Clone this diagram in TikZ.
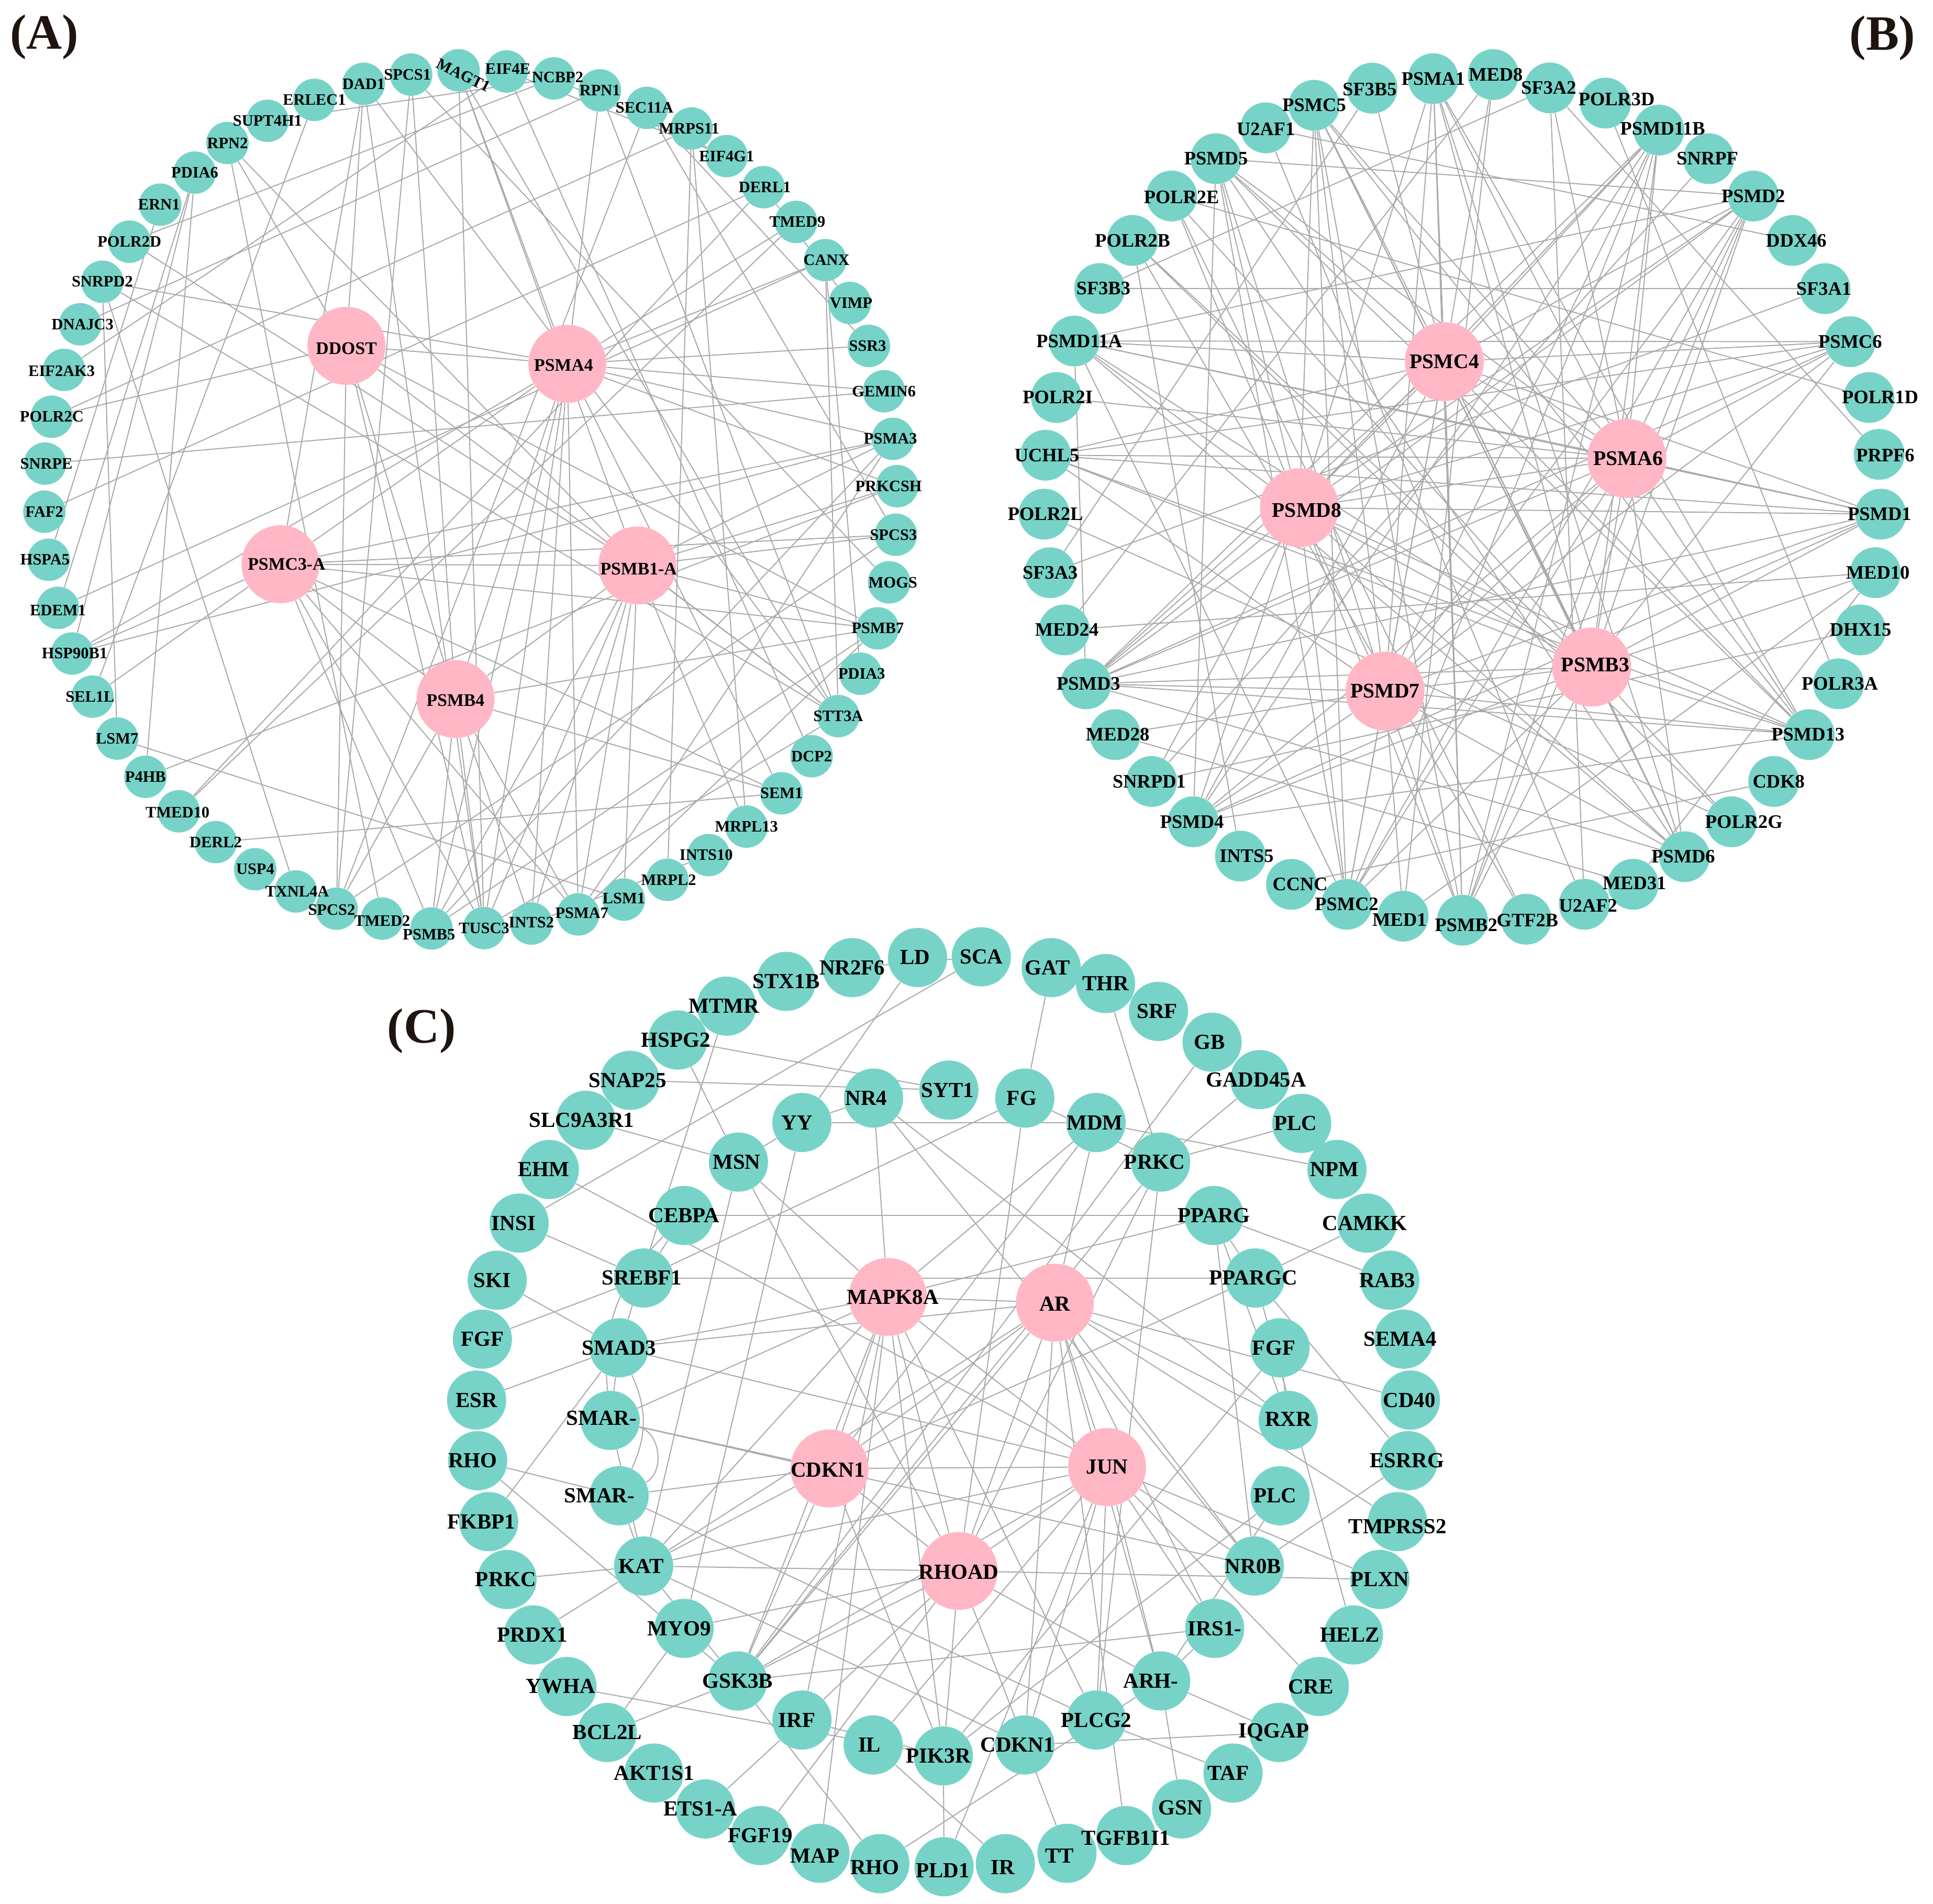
\documentclass[tikz,border=0pt]{standalone}
\usepackage{fontspec}
\setmainfont{Liberation Serif}
\usetikzlibrary{calc}
\pgfdeclarelayer{background}
\pgfsetlayers{background,main}
\definecolor{nodeteal}{HTML}{77D3C8}
\definecolor{hubpink}{HTML}{FFB7C6}
\definecolor{edgegray}{HTML}{A9A9A9}
\definecolor{lettercol}{HTML}{1F1410}
\tikzset{
 edge/.style={draw=edgegray,line width=0.6pt},
 sa/.style={circle,fill=nodeteal,minimum size=0.86cm,inner sep=0pt},
 ha/.style={circle,fill=hubpink,minimum size=1.58cm,inner sep=0pt},
 sb/.style={circle,fill=nodeteal,minimum size=1.03cm,inner sep=0pt},
 hb/.style={circle,fill=hubpink,minimum size=1.6cm,inner sep=0pt},
 sc/.style={circle,fill=nodeteal,minimum size=1.2cm,inner sep=0pt},
 hc/.style={circle,fill=hubpink,minimum size=1.58cm,inner sep=0pt},
 la/.style={inner sep=0pt,font=\fontsize{9.2}{10}\selectfont\bfseries},
 lha/.style={inner sep=0pt,font=\fontsize{10.2}{11}\selectfont\bfseries},
 lb/.style={inner sep=0pt,font=\fontsize{11}{12}\selectfont\bfseries},
 lhb/.style={inner sep=0pt,font=\fontsize{12}{13}\selectfont\bfseries},
 lc/.style={inner sep=0pt,font=\fontsize{12.4}{13}\selectfont\bfseries},
 panel/.style={inner sep=0pt,text=lettercol,font=\fontsize{28.5}{30}\selectfont\bfseries},
}
\begin{document}
\begin{tikzpicture}[x=0.025cm,y=-0.025cm]
\useasboundingbox (0,0) rectangle (1568,1544);
% ---------------- Panel A ----------------
\def\listA{DAD1/295/68/DAD1/0/0, SPCS1/333.5/60.5/SPCS1/-3/0, MAGT1/372/57//0/0, EIF4E/411/58/EIF4E/1/-2, NCBP2/449.3/63.6/NCBP2/3/-1, RPN1/486.6/73.3/RPN1/0/0, SEC11A/524.8/87.5/SEC11A/-2/0, MRPS11/561/104.2/MRPS11/-2/0, EIF4G1/589.4/126.6/EIF4G1/0/0, DERL1/619.4/151.8/DERL1/1/0, TMED9/645.8/180/TMED9/1/0, CANX/669.4/211/CANX/1/0, VIMP/689.4/245.7/VIMP/1/0, SSR3/704.8/280.5/SSR3/-1/0, GEMIN6/717/317.3/GEMIN6/0/0, PSMA3/724.3/355.9/PSMA3/-2/0, PRKCSH/727.8/394.3/PRKCSH/-7/0, SPCS3/726.7/433.7/SPCS3/-2/0, MOGS/721.3/472.3/MOGS/3/0, PSMB7/712/509.6/PSMB7/0/0, PDIA3/698/546.4/PDIA3/1/0, STT3A/680/580.8/STT3A/0/0, DCP2/658.4/613.3/DCP2/0/0, SEM1/634/643.4/SEM1/0/0, MRPL13/605.5/670.4/MRPL13/0/0, INTS10/574.8/693.5/INTS10/-2/0, MRPL2/541.4/713.6/MRPL2/1/0, LSM1/506/729.6/LSM1/0/-1, PSMA7/469/741.6/PSMA7/3/-1, INTS2/431/749/INTS2/0/-1, TUSC3/392.7/752.7/TUSC3/0/0, PSMB5/350/753/PSMB5/-2/5, TMED2/310/745/TMED2/0/2, SPCS2/273/737/SPCS2/-4/1, TXNL4A/240/723/TXNL4A/1/0, USP4/207/705/USP4/0/0, DERL2/175/683/DERL2/0/0, TMED10/145/658/TMED10/-1/1, P4HB/118/630/P4HB/0/0, LSM7/95/599/LSM7/0/0, SEL1L/75/565/SEL1L/-2/0, HSP90B1/58.5/530/HSP90B1/2/0, EDEM1/47/493/EDEM1/0/2, HSPA5/39.5/454/HSPA5/-3/0, FAF2/36/415/FAF2/0/0, SNRPE/36.6/376/SNRPE/1/0, POLR2C/42/338/POLR2C/0/0, EIF2AK3/52/300/EIF2AK3/-2/1, DNAJC3/65/263/DNAJC3/2/0, SNRPD2/83/228.5/SNRPD2/0/0, POLR2D/105/196/POLR2D/0/0, ERN1/130/166/ERN1/-1/0, PDIA6/158/140/PDIA6/0/0, RPN2/184.5/116/RPN2/0/0, SUPT4H1/217/98/SUPT4H1/0/0, ERLEC1/255/81/ERLEC1/0/0}
\def\hubA{DDOST/281/280.5/DDOST/0/2, PSMA4/460.2/295.1/PSMA4/-3/1, PSMC3-A/227.5/457.6/PSMC3-A/5/0, PSMB1-A/517/458.6/PSMB1-A/1/3, PSMB4/369.5/567/PSMB4/0/1}
\foreach \nm/\px/\py/\tx/\dx/\dy in \listA {\node[sa] (a-\nm) at (\px,\py) {};}
\foreach \nm/\px/\py/\tx/\dx/\dy in \hubA {\node[ha] (a-\nm) at (\px,\py) {};}
% ---------------- Panel B ----------------
\def\listB{PSMA1/1162.6/63.8/PSMA1/0/0, MED8/1211.3/60.5/MED8/2/0, SF3A2/1257.2/71.3/SF3A2/-1/0, POLR3D/1302.3/83.6/POLR3D/9/-3, PSMD11B/1345.7/105.5/PSMD11B/3/-1, SNRPF/1386/128.7/SNRPF/-1/0, PSMD2/1422.2/159/PSMD2/0/0, DDX46/1454.1/195/DDX46/3/0, SF3A1/1480.4/234.1/SF3A1/-1/0, PSMC6/1500.8/277.1/PSMC6/0/0, POLR1D/1516.1/322.4/POLR1D/9/0, PRPF6/1524.3/368.5/PRPF6/5/1, PSMD1/1525.6/417/PSMD1/-1/0, MED10/1521.2/464.5/MED10/2/0, DHX15/1509.2/510.9/DHX15/0/0, POLR3A/1491.4/554.6/POLR3A/1/0, PSMD13/1467.6/595.8/PSMD13/-1/0, CDK8/1438.8/633.8/CDK8/4/0, POLR2G/1404.6/666.5/POLR2G/10/0, PSMD6/1366.4/694.8/PSMD6/-1/0, MED31/1324.8/717.2/MED31/1/-1, U2AF2/1285.2/733.4/U2AF2/3/1, GTF2B/1238/745.5/GTF2B/1/1, PSMB2/1186.3/746.3/PSMB2/3/4, MED1/1138.2/743/MED1/-3/3, PSMC2/1092.4/733.4/PSMC2/0/0, CCNC/1047.6/717.2/CCNC/7/0, INTS5/1006.2/694.3/INTS5/5/0, PSMD4/967.9/666.5/PSMD4/-1/0, SNRPD1/934.2/633.8/SNRPD1/-2/0, MED28/904.6/595.8/MED28/2/0, PSMD3/880.9/554.6/PSMD3/2/0, MED24/863.4/510.9/MED24/2/0, SF3A3/851.8/464.5/SF3A3/0/0, POLR2L/847/417/POLR2L/1/0, UCHL5/848.2/369.2/UCHL5/1/0, POLR2I/857/322.4/POLR2I/1/0, PSMD11A/871.4/276.6/PSMD11A/4/0, SF3B3/892/234/SF3B3/3/0, POLR2B/918.7/195/POLR2B/0/0, POLR2E/950.4/159/POLR2E/8/1, PSMD5/986.4/128.7/PSMD5/0/0, U2AF1/1026.8/103.7/U2AF1/0/1, PSMC5/1066/85.4/PSMC5/0/0, SF3B5/1113/71.5/SF3B5/-2/1}
\def\hubB{PSMC4/1171.6/293.3/PSMC4/0/0, PSMA6/1319.7/371.8/PSMA6/1/0, PSMD8/1054/411.8/PSMD8/6/2, PSMB3/1291.1/541/PSMB3/3/-2, PSMD7/1123.5/560.5/PSMD7/0/0}
\foreach \nm/\px/\py/\tx/\dx/\dy in \listB {\node[sb] (b-\nm) at (\px,\py) {};}
\foreach \nm/\px/\py/\tx/\dx/\dy in \hubB {\node[hb] (b-\nm) at (\px,\py) {};}
% ---------------- Panel C ----------------
\def\listC{LD/744.3/776.6/LD/-2/0, SCA/796/776/SCA/0/0, GAT/852.7/784.8/GAT/-3/0, THR/896.8/797.7/THR/0/0, SRF/939.7/820.3/SRF/-1/0, GB/983.2/845.3/GB/-2/0, GADD45A/1021.9/875.6/GADD45A/-3/0, PLCa/1055.9/911.1/PLC/-5/0, NPM/1084.5/948.5/NPM/-2/0, CAMKK/1108.9/992/CAMKK/-2/0, RAB3/1127.4/1038.3/RAB3/-2/0, SEMA4/1138.7/1086.1/SEMA4/-3/0, CD40/1144.1/1135.5/CD40/-1/0, ESRRG/1142.3/1184.7/ESRRG/-1/0, TMPRSS2/1133.6/1234.1/TMPRSS2/0/4, PLXN/1119.3/1281/PLXN/0/0, HELZ/1097.9/1326/HELZ/-3/0, CRE/1070.2/1367.8/CRE/-7/0, IQGAP/1037.4/1405.1/IQGAP/-4/0, TAF/1000.2/1438/TAF/-4/0, GSN/958.5/1467.1/GSN/-1/-1, TGFB1I1/913.2/1488.7/TGFB1I1/0/2, TT/865.5/1503.1/TT/-6/2, IR/815.5/1511.5/IR/-2/3, PLD1/765.8/1514/PLD1/-1/3, RHOb/713.7/1511.5/RHO/-4/3, MAP/665.1/1503.1/MAP/-4/2, FGF19/616.8/1488.7/FGF19/0/0, ETS1A/572.2/1467.1/ETS1-A/-4/0, AKT1S1/530.5/1438/AKT1S1/0/0, BCL2L/492.6/1405.1/BCL2L/0/0, YWHA/459.9/1367.8/YWHA/-5/0, PRDX1/432.7/1326/PRDX1/-1/0, PRKCa/411.3/1281/PRKC/-1/0, FKBP1/396.4/1234.1/FKBP1/-6/0, RHOa/387.5/1184.7/RHO/-4/0, ESR/386.6/1135.5/ESR/0/0, FGFa/391.3/1086.1/FGF/0/0, SKI/403.3/1038.3/SKI/-4/0, INSI/421.1/992/INSI/-4.5/0, EHM/445.6/948.5/EHM/-4.5/0, SLC9A3R1/475.3/908.6/SLC9A3R1/-3.5/0, SNAP25/511.1/876.2/SNAP25/-2/0, HSPG2/549.8/843.5/HSPG2/-1.5/0, MTMR/589.4/816/MTMR/-2/0, STX1B/637.7/795.9/STX1B/0/0, NR2F6/691.3/784.8/NR2F6/0/0, SYT1/769.7/884.1/SYT1/-1/0, FG/831.3/890.6/FG/-2.5/0, MDM/889.1/910.4/MDM/-1/0, PRKCb/941.5/942.5/PRKC/-5/0, PPARG/984.7/985.8/PPARG/0/0, PPARGC/1018.1/1036.5/PPARGC/-1.5/0, FGFb/1038.3/1093.1/FGF/-5/0, RXR/1045/1152/RXR/0/-1, PLCb/1038.3/1213.1/PLC/-4/0, NR0B/1017.5/1270.1/NR0B/-1/0, IRS1/985.3/1320.7/IRS1-/0/0, ARH/941.5/1363.3/ARH-/-8/0, PLCG2/889.4/1395/PLCG2/0/0, CDKN1b/831.3/1415.2/CDKN1/-6/0, PIK3R/765.2/1424.1/PIK3R/-4/0, IL/708.3/1415.2/IL/-3/0, IRF/650.5/1395/IRF/-4/0, GSK3B/598.4/1363.3/GSK3B/0/0, MYO9/554.9/1320.7/MYO9/-4/0, KAT/522.1/1270.1/KAT/-2/0, SMARl/502.2/1213.1/SMAR-/-16/0, SMARu/495/1152/SMAR-/-7/-2, SMAD3/502.2/1093.1/SMAD3/0/0, SREBF1/522.1/1036.5/SREBF1/-1.5/0, CEBPA/554.9/985.8/CEBPA/0/0, MSN/599/942.5/MSN/-1.5/0, YY/650.5/910.4/YY/-4/0, NR4/708.6/890.6/NR4/-6/0}
\def\hubC{MAPK8A/720.2/1051.9/MAPK8A/4/0, AR/855.7/1056.5/AR/0/1, CDKN1a/672.9/1191/CDKN1/-1.5/1, JUN/898/1189.8/JUN/0/0, RHOAD/777.7/1274.1/RHOAD/0/1}
\foreach \nm/\px/\py/\tx/\dx/\dy in \listC {\node[sc] (c-\nm) at (\px,\py) {};}
\foreach \nm/\px/\py/\tx/\dx/\dy in \hubC {\node[hc] (c-\nm) at (\px,\py) {};}
% ---------------- Edges ----------------
\begin{pgfonlayer}{background}
\foreach \ea/\eb in {DDOST/DAD1, DDOST/RPN2, SNRPD2/PSMA4, DDOST/PSMA4, DDOST/SPCS2, DDOST/PSMB4, DDOST/STT3A, DDOST/POLR2C, DDOST/PSMB7, DDOST/TUSC3, PSMA4/SSR3, PSMA4/GEMIN6, PSMA4/PSMA3, PSMA4/RPN1, PSMA4/TMED9, PSMA4/MAGT1, PSMA4/CANX, PSMA4/PSMB4, PSMA4/PSMB5, PSMA4/PSMA7, PSMA4/TUSC3, PSMA4/PSMC3-A, PSMA4/SEM1, PSMA4/PRKCSH, PSMA4/HSP90B1, PSMA4/INTS2, PSMC3-A/HSP90B1, PSMC3-A/SEL1L, PSMC3-A/PSMB1-A, PSMC3-A/PSMB7, PSMC3-A/PSMB4, PSMC3-A/PSMB5, PSMC3-A/PSMA7, PSMC3-A/TUSC3, PSMC3-A/SPCS3, PSMC3-A/PSMA3, PSMC3-A/DAD1, PSMC3-A/SEM1, PSMB1-A/RPN2, PSMB1-A/PSMB4, PSMB1-A/PSMA7, PSMB1-A/PSMB5, PSMB1-A/TUSC3, PSMB1-A/STT3A, PSMB1-A/PSMB7, PSMB1-A/PSMA3, PSMB1-A/PRKCSH, PSMB1-A/POLR2D, PSMB1-A/LSM1, PSMB1-A/SPCS3, PSMB1-A/INTS2, PSMB1-A/MRPL13, PSMB1-A/MAGT1, PSMB4/PSMB5, PSMB4/TUSC3, PSMB4/INTS2, PSMB4/PSMA7, PSMB4/PSMB7, PSMB4/SEM1, PSMB4/SPCS2, PSMB4/SPCS1, SNRPD2/TXNL4A, PDIA6/P4HB, ERN1/HSPA5, PDIA6/EDEM1, SNRPE/GEMIN6, LSM7/LSM1, POLR2C/MRPS11, EIF2AK3/EIF4E, POLR2D/NCBP2, SPCS1/SPCS2, DAD1/TUSC3, DAD1/STT3A, SPCS1/MOGS, RPN2/TMED2, SNRPD2/STT3A, MRPS11/MRPL2, MRPS11/MRPL13, SEC11A/SPCS2, RPN1/STT3A, DERL1/FAF2, TMED10/TMED9, TMED10/DERL1, CANX/EDEM1, CANX/STT3A, CANX/PDIA3, SUPT4H1/NCBP2, ERLEC1/SEL1L, MAGT1/STT3A, EIF4E/EIF4G1, NCBP2/EIF4G1, DNAJC3/RPN1, DERL2/SEM1, P4HB/PRKCSH, HSP90B1/PSMA3, LSM7/SNRPD2, HSP90B1/PDIA6, SPCS2/SPCS3, INTS2/INTS10, PSMA7/PSMB7, PSMA7/PSMA3, TUSC3/STT3A, PSMB5/PSMB7, PSMB5/PSMA3, SEC11A/SPCS3, MAGT1/TUSC3, DCP2/EIF4E, VIMP/DERL1, SSR3/SEC11A}
 {\draw[edge] (a-\ea) -- (a-\eb);}
\foreach \ea/\eb in {PSMC4/PSMA6, PSMC4/PSMD8, PSMC4/PSMD7, PSMC4/PSMB3, PSMA6/PSMD8, PSMA6/PSMD7, PSMA6/PSMB3, PSMD8/PSMD7, PSMD8/PSMB3, PSMD7/PSMB3, PSMC4/PSMA1, PSMC4/PSMC5, PSMC4/PSMD5, PSMC4/PSMD11A, PSMC4/PSMD11B, PSMC4/PSMD2, PSMC4/PSMC6, PSMC4/PSMD1, PSMC4/PSMD13, PSMC4/PSMD6, PSMC4/PSMB2, PSMC4/PSMC2, PSMC4/PSMD4, PSMC4/PSMD3, PSMC4/UCHL5, PSMC4/SF3B5, PSMC4/MED8, PSMA6/PSMA1, PSMA6/PSMC5, PSMA6/PSMD5, PSMA6/PSMD11A, PSMA6/PSMD11B, PSMA6/PSMD2, PSMA6/PSMC6, PSMA6/PSMD1, PSMA6/PSMD13, PSMA6/PSMD6, PSMA6/PSMB2, PSMA6/PSMC2, PSMA6/PSMD4, PSMA6/PSMD3, PSMA6/UCHL5, PSMA6/SF3A2, PSMA6/POLR2I, PSMD8/PSMA1, PSMD8/PSMC5, PSMD8/PSMD5, PSMD8/PSMD11A, PSMD8/PSMD11B, PSMD8/PSMD2, PSMD8/PSMC6, PSMD8/PSMD1, PSMD8/PSMD13, PSMD8/PSMD6, PSMD8/PSMB2, PSMD8/PSMC2, PSMD8/PSMD4, PSMD8/PSMD3, PSMD8/SNRPD1, PSMD8/POLR2E, PSMD7/PSMA1, PSMD7/PSMC5, PSMD7/PSMD5, PSMD7/PSMD11B, PSMD7/PSMD2, PSMD7/PSMC6, PSMD7/PSMD1, PSMD7/PSMD13, PSMD7/PSMD6, PSMD7/PSMB2, PSMD7/PSMC2, PSMD7/PSMD4, PSMD7/PSMD3, PSMD7/MED28, PSMD7/UCHL5, PSMD7/MED1, PSMB3/PSMA1, PSMB3/PSMC5, PSMB3/PSMD11A, PSMB3/PSMD11B, PSMB3/PSMD2, PSMB3/PSMC6, PSMB3/PSMD1, PSMB3/PSMD13, PSMB3/PSMD6, PSMB3/PSMB2, PSMB3/PSMC2, PSMB3/PSMD4, PSMB3/PSMD3, PSMB3/UCHL5, PSMB3/MED10, PSMB3/POLR2B, PSMD5/PSMD2, POLR2E/POLR1D, SF3B3/SF3A1, PSMD11A/PSMD2, SF3A2/PRPF6, MED24/MED10, SF3A3/SF3A1, PSMD11A/PSMD3, MED28/MED31, INTS5/POLR2B, CCNC/CDK8, POLR3D/POLR3A, POLR2E/POLR2G, U2AF2/SF3A2, GTF2B/POLR2B, MED31/MED10, PSMD11B/PSMD4, PSMD11B/PSMC2, PSMD11B/PSMD3, PSMD5/PSMD4, PSMD5/PSMC2, PSMC5/PSMD6, PSMD2/PSMD3, PSMC6/PSMD3, PSMD1/PSMD3, PSMD13/PSMD4, PSMA1/PSMB2, PSMD11A/PSMD6, PSMD11A/PSMC2, UCHL5/PSMC6, U2AF1/U2AF2, SNRPF/SNRPD1, MED8/MED1, MED8/MED24, MED1/MED10, POLR2B/POLR2G, GTF2B/POLR2E, PSMD5/PSMD13, PSMD5/PSMD6, PSMC5/PSMD13, PSMD1/PSMD4, PSMD2/PSMC2, PSMD11B/PSMB2, PSMD2/PSMB2, PSMA1/PSMD13, PSMA1/PSMD6, PSMC5/PSMC2, PSMC5/PSMB2, SF3B5/SF3A3, DDX46/U2AF1, DHX15/SNRPD1, POLR2L/POLR2G, PSMD6/PSMD3, PSMD13/PSMD3, PSMD1/PSMD11A, PSMC6/PSMD11A, SF3A2/SF3B3, UCHL5/PSMD1, UCHL5/PSMD13}
 {\draw[edge] (b-\ea) -- (b-\eb);}
\foreach \ea/\eb in {MAPK8A/NR4, MAPK8A/MSN, MAPK8A/SMAD3, MAPK8A/PPARG, MAPK8A/MDM, MAPK8A/KAT, MAPK8A/AR, MAPK8A/JUN, MAPK8A/CDKN1a, MAPK8A/RHOAD, MAPK8A/MAP, MAPK8A/GSK3B, MAPK8A/PLCG2, MAPK8A/PIK3R, MAPK8A/SMARu, MAPK8A/IRF, AR/MDM, AR/CD40, AR/SMAD3, AR/GSK3B, AR/TMPRSS2, AR/RXR, AR/ARH, AR/CDKN1b, AR/TGFB1I1, AR/IRS1, AR/JUN, AR/RHOAD, AR/CDKN1a, AR/KAT, AR/NR0B, CDKN1a/SMARu, CDKN1a/SMARl, CDKN1a/KAT, CDKN1a/MDM, CDKN1a/PPARGC, CDKN1a/JUN, CDKN1a/GSK3B, CDKN1a/RHOAD, CDKN1a/PIK3R, JUN/SMAD3, JUN/EHM, JUN/KAT, JUN/RHOAD, JUN/NR0B, JUN/PLXN, JUN/CRE, JUN/IRS1, JUN/GSK3B, JUN/PLCG2, JUN/CDKN1b, JUN/IL, JUN/ARH, JUN/PLD1, RHOAD/KAT, RHOAD/MYO9, RHOAD/IRF, RHOAD/MSN, RHOAD/FG, RHOAD/PLXN, RHOAD/ARH, RHOAD/PIK3R, RHOAD/TT, RHOAD/FGF19, RHOAD/PRKCb, RHOAD/GSK3B, HSPG2/SYT1, SNAP25/SYT1, MTMR/SMAD3, HSPG2/MSN, LD/YY, SCA/INSI, NR2F6/SCA, SLC9A3R1/MSN, YY/NR4, MSN/YY, YY/MDM, NR4/RXR, NR4/NR0B, KAT/MSN, YY/MYO9, CEBPA/PPARG, CEBPA/SREBF1, SREBF1/PPARGC, SREBF1/INSI, SREBF1/FG, SMAD3/SKI, SMAD3/ESR, FGFa/SREBF1, SMAD3/SMARu, SMARu/NR0B, SMARl/PLCG2, RHOa/SMARl, RHOa/GSK3B, FKBP1/SMAD3, PRKCa/KAT, PRDX1/KAT, YWHA/PIK3R, BCL2L/GSK3B, BCL2L/MYO9, ETS1A/IRF, RHOb/GSK3B, RHOb/ARH, PLD1/PIK3R, PIK3R/PLCb, IRF/PIK3R, GSK3B/KAT, GSK3B/IRS1, KAT/CDKN1b, GAT/FG, THR/PRKCb, GB/GSK3B, GADD45A/PRKCb, PLCa/PRKCb, NPM/MDM, CAMKK/PPARGC, RAB3/PPARG, FG/PRKCb, PRKCb/GSK3B, PRKCb/PLCG2, PPARG/PPARGC, PPARG/NR0B, PPARG/RXR, PPARGC/ESRRG, HELZ/PPARGC, FGFb/PIK3R, FGFb/RXR, ESRRG/NR0B, IQGAP/ARH, IQGAP/CDKN1b, TAF/PLCG2, GSN/ARH, IL/IR, IRS1/ARH, ARH/PLCb, SMARu/KAT, SMARl/KAT}
 {\draw[edge] (c-\ea) -- (c-\eb);}
\draw[edge] (c-SMARu) to[bend left=70] (c-SMARl);
\draw[edge] (c-SMAD3) to[bend left=25] (c-SMARl);
\draw[edge] (c-CEBPA) to[bend right=25] (c-SMARu);
\end{pgfonlayer}
% ---------------- Labels ----------------
\foreach \nm/\px/\py/\tx/\dx/\dy in \listA {\node[la] at ($(a-\nm)+(\dx,\dy)$) {\tx};}
\foreach \nm/\px/\py/\tx/\dx/\dy in \hubA {\node[lha] at ($(a-\nm)+(\dx,\dy)$) {\tx};}
\node[la,rotate=-26] at ($(a-MAGT1)+(4,4)$) {MAGT1};
\foreach \nm/\px/\py/\tx/\dx/\dy in \listB {\node[lb] at ($(b-\nm)+(\dx,\dy)$) {\tx};}
\foreach \nm/\px/\py/\tx/\dx/\dy in \hubB {\node[lhb] at ($(b-\nm)+(\dx,\dy)$) {\tx};}
\foreach \nm/\px/\py/\tx/\dx/\dy in \listC {\node[lc] at ($(c-\nm)+(\dx,\dy)$) {\tx};}
\foreach \nm/\px/\py/\tx/\dx/\dy in \hubC {\node[lc] at ($(c-\nm)+(\dx,\dy)$) {\tx};}
% ---------------- Panel letters ----------------
\node[panel] (pa) at (36,30) {(A)};
\node[panel] (pb) at (1527,31) {(B)};
\node[panel] (pc) at (342,836) {(C)};
\end{tikzpicture}
\end{document}
